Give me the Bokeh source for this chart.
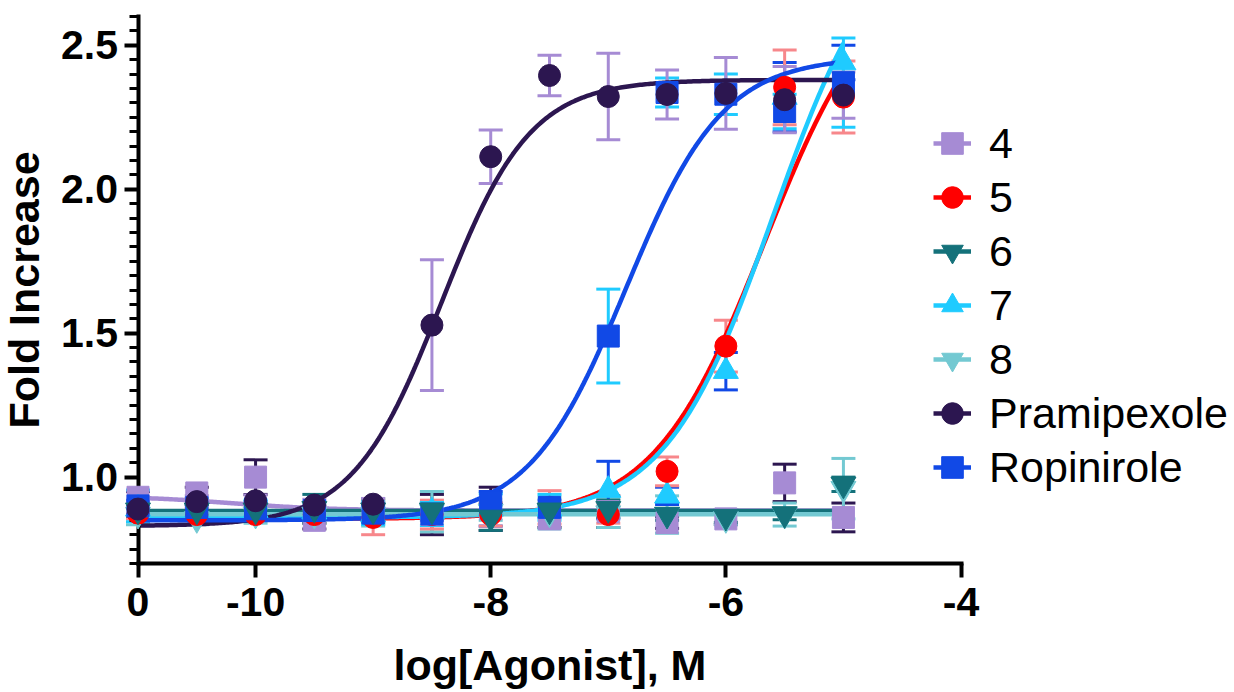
import numpy as np
from bokeh.plotting import figure
from bokeh.models import (ColumnDataSource, Whisker, TeeHead, FixedTicker, Legend,
                          LegendItem, Range1d, NumeralTickFormatter)
from bokeh.embed import file_html
from bokeh.resources import INLINE

# ---------------- data ----------------
log_conc = [-11, -10.5, -10, -9.5, -9, -8.5, -8, -7.5, -7, -6.5, -6, -5.5, -5]

series_names = ["4", "5", "6", "7", "8", "Pramipexole", "Ropinirole"]

mean_4 = [0.93, 0.945, 1.00, 0.85, 0.88, 0.87, 0.89, 0.855, 0.88, 0.842, 0.855, 0.98, 0.86]
sem_4 = [0.02, 0.02, 0.06, 0.03, 0.03, 0.07, 0.075, 0.03, 0.055, 0.02, 0.02, 0.065, 0.05]

mean_5 = [0.875, 0.87, 0.87, 0.87, 0.86, 0.87, 0.87, 0.895, 0.87, 1.02, 1.455, 2.354, 2.32]
sem_5 = [0.02, 0.02, 0.02, 0.03, 0.06, 0.05, 0.04, 0.058, 0.03, 0.05, 0.09, 0.13, 0.125]

mean_6 = [0.885, 0.885, 0.885, 0.89, 0.885, 0.885, 0.86, 0.885, 0.89, 0.87, 0.863, 0.872, 0.975]
sem_6 = [0.02, 0.02, 0.02, 0.05, 0.04, 0.02, 0.045, 0.02, 0.03, 0.02, 0.02, 0.02, 0.025]

mean_7 = [0.89, 0.885, 0.885, 0.88, 0.87, 0.88, 0.89, 0.89, 0.955, 0.935, 1.368, 2.32, 2.44]
sem_7 = [0.03, 0.02, 0.03, 0.02, 0.03, 0.03, 0.06, 0.03, 0.10, 0.03, 0.065, 0.12, 0.06]

mean_8 = [0.87, 0.855, 0.87, 0.87, 0.87, 0.88, 0.88, 0.875, 0.875, 0.87, 0.855, 0.87, 0.96]
sem_8 = [0.035, 0.02, 0.03, 0.03, 0.04, 0.07, 0.03, 0.055, 0.05, 0.065, 0.02, 0.04, 0.105]

mean_pram = [0.889, 0.915, 0.918, 0.903, 0.906, 1.528, 2.113, 2.395, 2.322, 2.329, 2.333, 2.311, 2.327]
sem_pram = [0.02, 0.02, 0.02, 0.02, 0.02, 0.227, 0.093, 0.07, 0.15, 0.085, 0.125, 0.115, 0.08]

mean_ropi = [0.90, 0.895, 0.89, 0.884, 0.875, 0.872, 0.912, 0.895, 1.49, 2.336, 2.33, 2.27, 2.37]
sem_ropi = [0.055, 0.03, 0.03, 0.03, 0.04, 0.04, 0.03, 0.045, 0.163, 0.05, 0.07, 0.06, 0.155]

# four-parameter logistic fits (order of series_names)
fit_bottom = [0.935, 0.855, 0.882, 0.86, 0.871, 0.83, 0.85]
fit_top = [0.884, 2.78, 0.882, 2.95, 0.871, 2.38, 2.46]
fit_logec50 = [-10.2, -5.67, -8.0, -5.6, -8.0, -8.42, -6.85]
fit_hill = [1.0, 0.92, 1.0, 0.95, 1.0, 1.15, 1.05]

x_tick_values = [-11, -10, -8, -6, -4]
x_tick_labels = ["0", "-10", "-8", "-6", "-4"]
y_tick_values = [1.0, 1.5, 2.0, 2.5]

means = [mean_4, mean_5, mean_6, mean_7, mean_8, mean_pram, mean_ropi]
sems = [sem_4, sem_5, sem_6, sem_7, sem_8, sem_pram, sem_ropi]

# ---------------- styles ----------------
marker_of = ["square", "circle", "inverted_triangle", "triangle", "inverted_triangle", "circle", "square"]
color_of = ["#A68BD4", "#FF0000", "#14717A", "#1FCBFF", "#73C9D2", "#2C1650", "#1149E6"]
err_color_of = ["#2C1650", "#F7878B", "#14717A", "#1149E6", "#73C9D2", "#A68BD4", "#1FCBFF"]
size_of = [22, 22, 25, 25, 25, 22, 22]
draw_order = [0, 4, 3, 1, 6, 2, 5]

FONT = "Liberation Sans"

# layout: the frame covers the whole canvas; axes are drawn at fixed locations
# with bounds, so nothing (markers, tick labels) is clipped.
X_AXIS_MIN, X_AXIS_MAX = -11, -4
Y_AXIS_MIN, Y_AXIS_MAX = 0.7, 2.6
PX_PER_X = 823 / 7.0
PX_PER_Y = 547 / 1.9
AXIS_PX_X = 137.5      # canvas x of the y axis
AXIS_PX_TOP = 16       # canvas y of the top of the y axis
W, H = 1230, 690
x0 = X_AXIS_MIN - AXIS_PX_X / PX_PER_X
x1 = x0 + W / PX_PER_X
y1 = Y_AXIS_MAX + AXIS_PX_TOP / PX_PER_Y
y0 = y1 - H / PX_PER_Y

p = figure(frame_width=W, frame_height=H,
           x_range=Range1d(x0, x1), y_range=Range1d(y0, y1),
           output_backend="svg", toolbar_location=None,
           min_border_left=0, min_border_right=0,
           min_border_top=0, min_border_bottom=0,
           outline_line_color=None)
p.grid.visible = False

# curves
xs_fit = np.linspace(-11, -5, 400)
curve_r = []
for i in range(len(series_names)):
    b, t, c, h = fit_bottom[i], fit_top[i], fit_logec50[i], fit_hill[i]
    yfit = b + (t - b) / (1 + 10 ** ((c - xs_fit) * h))
    r = p.line(xs_fit, yfit, line_color=color_of[i], line_width=4.5)
    curve_r.append(r)

# error bars + markers
scatter_r = [None] * len(series_names)
for i in draw_order:
    lo = [m - s for m, s in zip(means[i], sems[i])]
    hi = [m + s for m, s in zip(means[i], sems[i])]
    src = ColumnDataSource(dict(x=log_conc, y=means[i], lo=lo, hi=hi))
    w = Whisker(source=src, base="x", lower="lo", upper="hi", dimension="height",
                line_color=err_color_of[i], line_width=3,
                lower_head=TeeHead(size=24, line_color=err_color_of[i], line_width=3),
                upper_head=TeeHead(size=24, line_color=err_color_of[i], line_width=3))
    p.add_layout(w)
for i in draw_order:
    src = ColumnDataSource(dict(x=log_conc, y=means[i]))
    scatter_r[i] = p.scatter("x", "y", source=src, marker=marker_of[i], size=size_of[i],
                             fill_color=color_of[i], line_color=color_of[i], line_width=1,
                             level="annotation")

# axes
xa = p.xaxis[0]
ya = p.yaxis[0]
xa.ticker = FixedTicker(ticks=x_tick_values, minor_ticks=[])
xa.major_label_overrides = {v: l for v, l in zip(x_tick_values, x_tick_labels)}
xa.bounds = (X_AXIS_MIN, X_AXIS_MAX)
xa.fixed_location = Y_AXIS_MIN
ya.ticker = FixedTicker(ticks=y_tick_values,
                        minor_ticks=list(np.round(np.arange(0.70, 2.6001, 0.05), 2)))
ya.formatter = NumeralTickFormatter(format="0.0")
ya.bounds = (Y_AXIS_MIN, Y_AXIS_MAX)
ya.fixed_location = X_AXIS_MIN

for ax in (xa, ya):
    ax.axis_line_width = 4
    ax.axis_line_color = "black"
    ax.axis_line_cap = "square"
    ax.major_tick_line_width = 4
    ax.major_tick_line_color = "black"
    ax.major_tick_in = 0
    ax.major_tick_out = 14
    ax.major_label_text_font = FONT
    ax.major_label_text_font_style = "bold"
    ax.major_label_text_font_size = "41px"
    ax.major_label_text_color = "black"
    ax.axis_label_text_font = FONT
    ax.axis_label_text_font_style = "bold"
    ax.axis_label_text_font_size = "43px"
    ax.axis_label_text_color = "black"

ya.minor_tick_line_width = 3
ya.minor_tick_line_color = "black"
ya.minor_tick_in = 0
ya.minor_tick_out = 9
ya.major_label_standoff = 6
ya.axis_label = "Fold Increase"
ya.axis_label_standoff = 11

xa.minor_tick_line_color = None
xa.major_label_standoff = 10
xa.axis_label = "log[Agonist], M"
xa.axis_label_standoff = 22

# legend: short lines + markers, two overlaid legends
legend_order = [0, 1, 2, 3, 4, 5, 6]
LEG_X = 933
LEG_Y = H - 494
leg_lines = Legend(items=[LegendItem(label=" ", renderers=[curve_r[i]]) for i in legend_order],
                   location=(LEG_X, LEG_Y), orientation="vertical",
                   glyph_width=38, glyph_height=54, label_height=54, spacing=0,
                   padding=0, margin=0, border_line_color=None, background_fill_alpha=0,
                   label_text_font=FONT, label_text_font_size="43px")
leg_marks = Legend(items=[LegendItem(label=series_names[i], renderers=[scatter_r[i]]) for i in legend_order],
                   location=(LEG_X - 8, LEG_Y), orientation="vertical",
                   glyph_width=54, glyph_height=54, label_height=54, spacing=0,
                   padding=0, margin=0, border_line_color=None, background_fill_alpha=0,
                   label_standoff=10,
                   label_text_font=FONT, label_text_font_size="43px",
                   label_text_color="black", label_text_baseline="middle")
p.add_layout(leg_lines)
p.add_layout(leg_marks)

open("out.html", "w").write(file_html(p, INLINE))
